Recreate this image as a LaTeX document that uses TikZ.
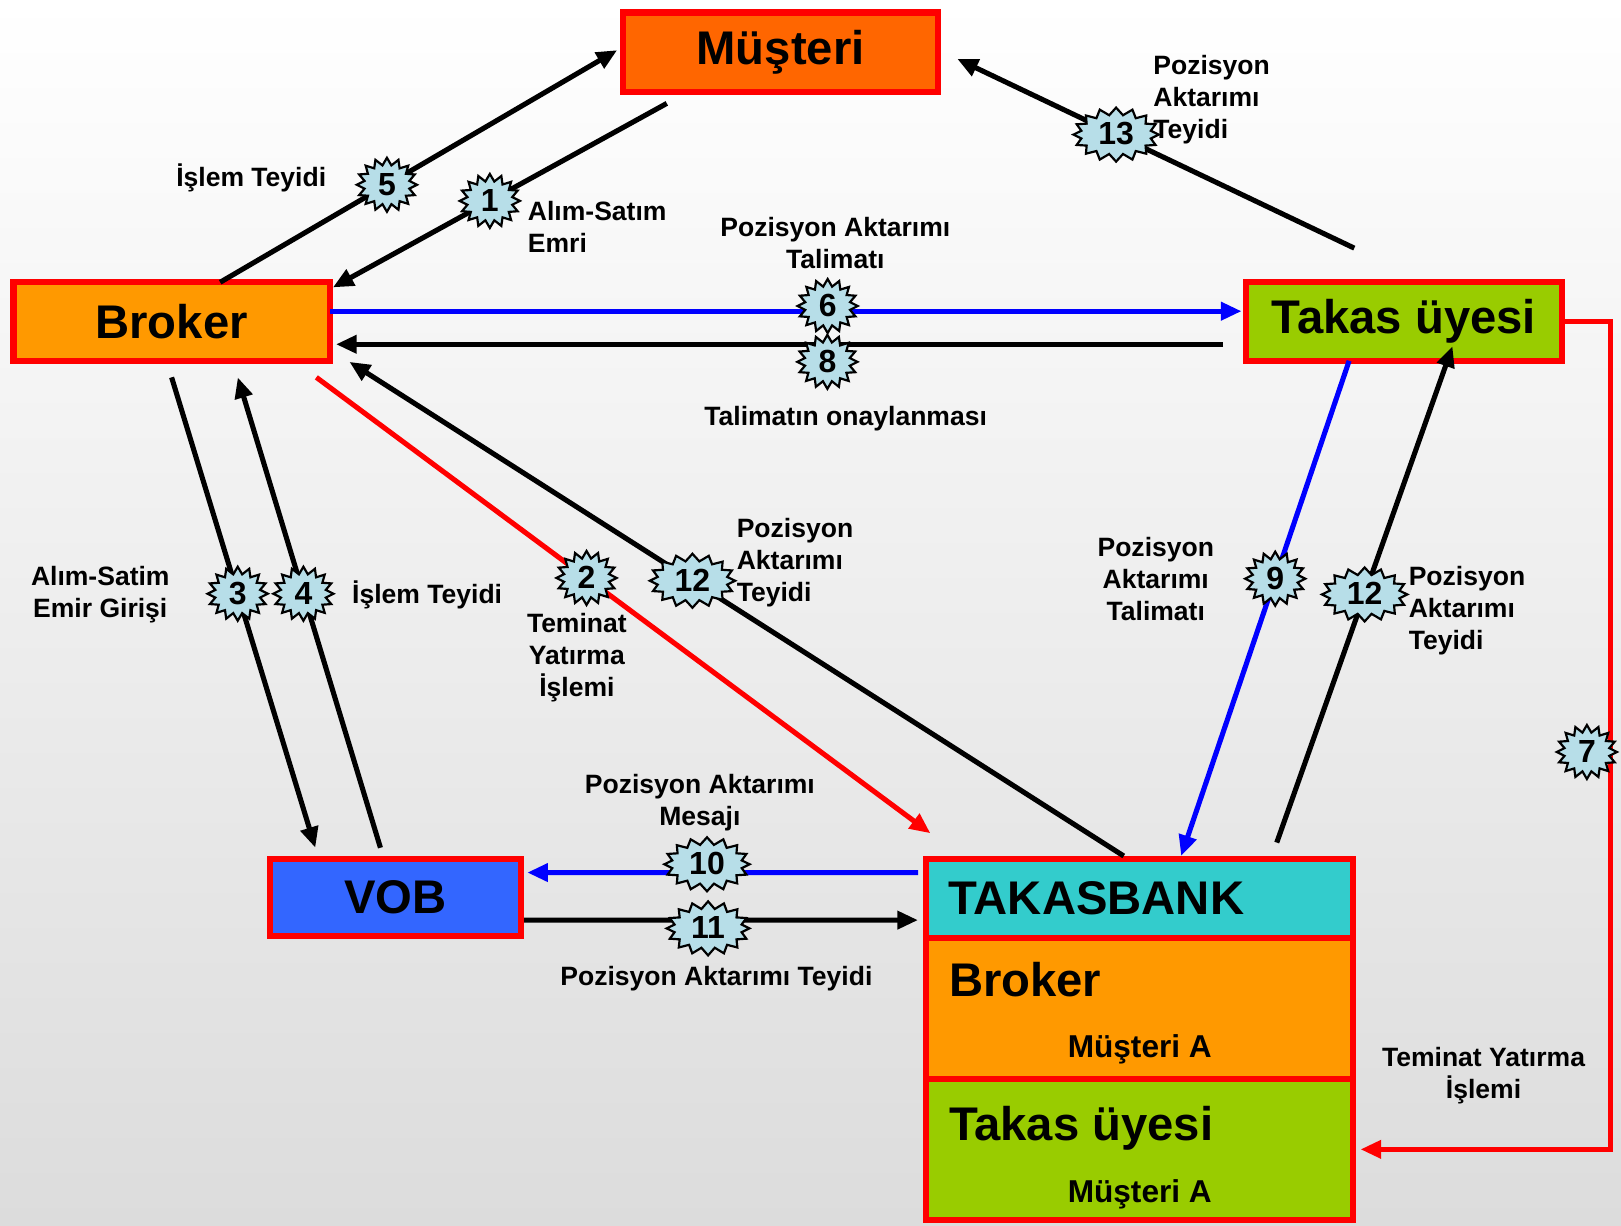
\documentclass[tikz,border=0pt]{standalone}
\usepackage{fontspec}
\setmainfont{Liberation Sans}
\usepackage{xcolor}
\usepackage{tikz}
\usetikzlibrary{shapes.symbols, arrows.meta, positioning}

\definecolor{musc}{HTML}{FF6600}
\definecolor{brkc}{HTML}{FF9900}
\definecolor{tkc}{HTML}{99CC00}
\definecolor{vobc}{HTML}{3366FF}
\definecolor{tbc}{HTML}{33CCCC}
\definecolor{starc}{HTML}{B7DEE8}
\definecolor{bgc}{HTML}{DCDCDC}

\begin{document}
\begin{tikzpicture}[
    box/.style={draw=red, line width=1.7pt, outer sep=0pt, font=\fontsize{13}{15}\selectfont\bfseries},
    num/.style={starburst, starburst points=16, starburst point height=0.07cm, random starburst=0,
        draw=black, text=black, line width=0.6pt, fill=starc, inner xsep=2pt, inner ysep=1pt,
        text height=0.2cm, text depth=0cm, font=\fontsize{8.8}{8.8}\selectfont\bfseries},
    lbl/.style={inner sep=0pt, font=\fontsize{7.3}{8.8}\selectfont\bfseries},
    arr/.style={line width=1.4pt, -{Triangle[length=0.2cm, width=0.17cm]}}
]
    \useasboundingbox (0,0) rectangle (15.68,-11.85);
    \shade[top color=white, bottom color=bgc] (0,0) rectangle (15.68,-11.85);

    \node[box, fill=musc, minimum width=3.04cm, minimum height=0.77cm] (mus) at (7.55,-0.505) {Müşteri};
    \node[box, fill=brkc, minimum width=3.06cm, minimum height=0.76cm] (brk) at (1.66,-3.11) {Broker};
    \node[box, fill=tkc, minimum width=3.06cm, minimum height=0.76cm] (tks) at (13.58,-3.11) {Takas üyesi};
    \node[box, fill=vobc, minimum width=2.43cm, minimum height=0.74cm] (vob) at (3.825,-8.68) {VOB};
    \node[box, fill=tbc, minimum height=0.76cm, text width=3.7cm, inner xsep=0.215cm, align=left] (tbk) at (11.025,-8.69) {TAKASBANK};
    \node[box, fill=brkc, minimum width=4.13cm, minimum height=1.365cm, below=0pt of tbk] (tbrk) {};
    \node[box, fill=tkc, minimum width=4.13cm, minimum height=1.365cm, below=0pt of tbrk] (ttks) {};

    \node[box, draw=none, fill=none, inner sep=0pt, anchor=base west] (tbrk-name) at ([xshift=0.22cm,yshift=-0.57cm]tbrk.north west) {Broker};
    \node[lbl, font=\fontsize{8.7}{10}\selectfont\bfseries, anchor=base] (tbrk-mus) at ([yshift=-1.16cm]tbrk.north) {Müşteri A};
    \node[box, draw=none, fill=none, inner sep=0pt, anchor=base west] (ttks-name) at ([xshift=0.22cm,yshift=-0.595cm]ttks.north west) {Takas üyesi};
    \node[lbl, font=\fontsize{8.7}{10}\selectfont\bfseries, anchor=base] (ttks-mus) at ([yshift=-1.195cm]ttks.north) {Müşteri A};

    \draw[arr] ([xshift=-1.10cm,yshift=-0.11cm]mus.south) -- node[num, pos=0.53] (n1) {1} ([xshift=0.03cm,yshift=-0.05cm]brk.north east);
    \draw[arr] ([xshift=0.47cm]brk.north) -- node[num, pos=0.42] (n5) {5} ([xshift=-0.06cm,yshift=0.02cm]mus.west);
    \draw[arr] ([xshift=-0.48cm,yshift=0.33cm]tks.north) -- node[num, pos=0.6] (n13) {13} ([xshift=0.19cm,yshift=-0.065cm]mus.east);
    \draw[arr, blue] ([yshift=0.1cm]brk.east) -- node[num, pos=0.546, yshift=0.05cm] (n6) {6} ([xshift=-0.04cm,yshift=0.1cm]tks.west);
    \draw[arr] ([xshift=-0.22cm,yshift=-0.22cm]tks.west) -- node[num, pos=0.446, yshift=-0.17cm] (n8) {8} ([xshift=0.06cm,yshift=-0.22cm]brk.east);
    \draw[arr] ([yshift=-0.16cm]brk.south) -- node[num, pos=0.46] (n3) {3} ([xshift=-0.775cm,yshift=0.11cm]vob.north);
    \draw[arr] ([xshift=-0.145cm,yshift=0.11cm]vob.north) -- node[num, pos=0.54] (n4) {4} ([xshift=0.64cm,yshift=-0.16cm]brk.south);
    \draw[arr, red] ([xshift=-0.13cm,yshift=-0.16cm]brk.south east) -- node[num, pos=0.44] (n2) {2} ([xshift=0.04cm,yshift=0.25cm]tbk.north west);
    \draw[arr] ([xshift=-0.155cm,yshift=0.03cm]tbk.north) -- node[num, pos=0.557] (n12a) {12} ([xshift=0.19cm,yshift=-0.01cm]brk.south east);
    \draw[arr, blue] ([xshift=-0.53cm]tks.south) -- node[num, pos=0.44] (n9) {9} ([xshift=0.40cm,yshift=0.03cm]tbk.north);
    \draw[arr] ([xshift=1.325cm,yshift=0.16cm]tbk.north) -- node[num, pos=0.5] (n12b) {12} ([xshift=0.47cm,yshift=0.14cm]tks.south);
    \draw[arr, red] (tks.east) -- ++(0.47,0) |- node[num, pos=0.26, xshift=-0.23cm] (n7) {7} ([xshift=0.07cm]ttks.east);
    \draw[arr, blue] ([xshift=-0.08cm,yshift=0.25cm]tbk.west) -- node[num, pos=0.54, yshift=0.08cm] (n10) {10} ([xshift=0.06cm,yshift=0.24cm]vob.east);
    \draw[arr] ([xshift=0.03cm,yshift=-0.22cm]vob.east) -- node[num, pos=0.467, yshift=-0.08cm] (n11) {11} ([xshift=-0.08cm,yshift=-0.21cm]tbk.west);

    \node[lbl] (l5) at (2.43,-1.72) {İşlem Teyidi};
    \node[lbl, anchor=west, align=left] (l1) at (5.10,-2.19) {Alım-Satım\\Emri};
    \node[lbl, anchor=west, align=left] (l13) at (11.15,-0.96) {Pozisyon\\Aktarımı\\Teyidi};
    \node[lbl, align=center] (l6) at (8.08,-2.35) {Pozisyon Aktarımı\\Talimatı};
    \node[lbl] (l8) at (8.18,-4.05) {Talimatın onaylanması};
    \node[lbl, align=center] (l3) at (0.97,-5.75) {Alım-Satim\\Emir Girişi};
    \node[lbl, anchor=west] (l4) at (3.40,-5.75) {İşlem Teyidi};
    \node[lbl, align=center] (l2) at (5.58,-6.36) {Teminat\\Yatırma\\İşlemi};
    \node[lbl, anchor=west, align=left] (l12a) at (7.12,-5.44) {Pozisyon\\Aktarımı\\Teyidi};
    \node[lbl, align=center] (l9) at (11.18,-5.60) {Pozisyon\\Aktarımı\\Talimatı};
    \node[lbl, anchor=west, align=left] (l12b) at (13.62,-5.91) {Pozisyon\\Aktarımı\\Teyidi};
    \node[lbl, align=center] (l7) at (14.35,-10.40) {Teminat Yatırma\\İşlemi};
    \node[lbl, align=center] (l10) at (6.77,-7.76) {Pozisyon Aktarımı\\Mesajı};
    \node[lbl] (l11) at (6.93,-9.47) {Pozisyon Aktarımı Teyidi};
\end{tikzpicture}
\end{document}
